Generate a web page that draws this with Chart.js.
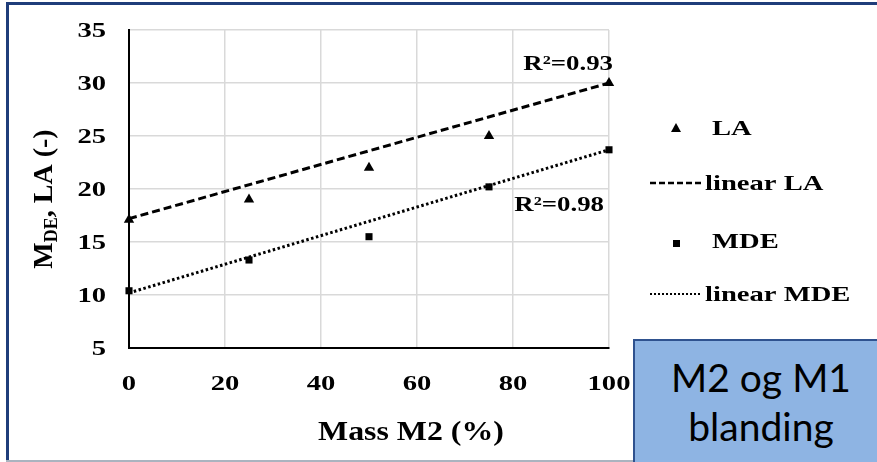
<!DOCTYPE html>
<html>
<head>
<meta charset="utf-8">
<script src="https://cdn.jsdelivr.net/npm/chart.js@4"></script>
<style>
  html, body { margin: 0; padding: 0; background: #fff; }
  #wrap { position: relative; width: 877px; height: 462px; overflow: hidden; }
  #frameTop { position: absolute; left: 6px; top: 2px; right: 0; height: 3px; background: #1f3d7a; }
  #frameLeft { position: absolute; left: 6px; top: 2px; width: 3px; bottom: 0; background: #1f3d7a; }
  #frameBottom { position: absolute; left: 6px; right: 0; bottom: 0; height: 2px; background: #aab3bf; }
  #box {
    position: absolute; left: 633px; top: 339px; width: 260px; height: 140px;
    background: #8eb4e3; border: 2px solid #2f528f; box-sizing: border-box;
  }
  #box div {
    position: absolute; left: 0; width: 252px; text-align: center;
    font-family: Lato, "Open Sans", sans-serif; font-size: 39px; color: #000;
  }
</style>
</head>
<body>
<div id="wrap">
  <canvas id="grafico" width="877" height="462"></canvas>
  <div id="frameTop"></div>
  <div id="frameLeft"></div>
  <div id="frameBottom"></div>
  <div id="box"><div style="top:13px">M2 og M1</div><div style="top:62px">blanding</div></div>
</div>
<script>
// dados
const massa = [0, 25, 50, 75, 100];
const valoresLA = [17.1, 19.0, 22.0, 25.0, 30.0];
const valoresMDE = [10.4, 13.3, 15.5, 20.2, 23.7];
const tendX = [0, 100];
const tendLA = [17.2, 30.0];
const tendMDE = [10.2, 23.7];
const ticksX = [0, 20, 40, 60, 80, 100];
const ticksY = [5, 10, 15, 20, 25, 30, 35];
const r2LA = "R\u00b2=0.93";
const r2MDE = "R\u00b2=0.98";

function pontos(xs, ys) {
    return xs.map((x, i) => ({ x: x, y: ys[i] }));
}

const serif = "'Liberation Serif', 'Times New Roman', serif";

// texto esticado na horizontal (a figura original está esticada)
function texto(ctx, s, x, y, sx, align) {
    ctx.save();
    ctx.translate(x, y);
    ctx.scale(sx, 1);
    ctx.textAlign = align || 'left';
    ctx.fillText(s, 0, 0);
    ctx.restore();
}

const textos = {
    id: 'textos',
    afterDraw(chart) {
        const ctx = chart.ctx;
        const x = chart.scales.x;
        const y = chart.scales.y;
        ctx.save();
        ctx.fillStyle = '#000';
        ctx.textBaseline = 'middle';

        // tick labels
        ctx.font = "bold 22px " + serif;
        ticksY.forEach(v => texto(ctx, String(v), 106, y.getPixelForValue(v) + 1, 1.3, 'right'));
        ticksX.forEach(v => texto(ctx, String(v), x.getPixelForValue(v), 384, 1.3, 'center'));

        // R2 labels
        ctx.font = "bold 22px " + serif;
        texto(ctx, r2LA, 613, 64, 1.22, 'right');
        texto(ctx, r2MDE, 604, 205, 1.22, 'right');

        // x title
        ctx.font = "bold 27px " + serif;
        texto(ctx, "Mass M2 (%)", 411, 433, 1.18, 'center');

        // y title (rotated, with subscript)
        ctx.translate(45, 199);
        ctx.rotate(-Math.PI / 2);
        ctx.textAlign = 'left';
        const big = "bold 28px " + serif;
        const small = "bold 18px " + serif;
        ctx.font = big;
        const wM = ctx.measureText("M").width;
        ctx.font = small;
        const wDE = ctx.measureText("DE").width;
        ctx.font = big;
        const wResto = ctx.measureText(", LA (-)").width;
        let px = -(wM + wDE + wResto) / 2;
        ctx.fillText("M", px, 0);
        px += wM;
        ctx.font = small;
        ctx.fillText("DE", px, 7);
        px += wDE;
        ctx.font = big;
        ctx.fillText(", LA (-)", px, 0);
        ctx.restore();

        // legend
        ctx.save();
        ctx.fillStyle = '#000';
        ctx.strokeStyle = '#000';
        ctx.font = "bold 22px " + serif;
        ctx.textBaseline = 'middle';
        // LA
        ctx.beginPath();
        ctx.moveTo(676, 123); ctx.lineTo(681, 132); ctx.lineTo(671, 132); ctx.closePath();
        ctx.fill();
        texto(ctx, "LA", 712, 129, 1.3);
        // linear LA
        ctx.lineWidth = 2.5;
        ctx.setLineDash([6, 3]);
        ctx.beginPath(); ctx.moveTo(650, 183); ctx.lineTo(702, 183); ctx.stroke();
        texto(ctx, "linear LA", 705, 184, 1.3);
        // MDE
        ctx.setLineDash([]);
        ctx.fillRect(673, 240, 7, 7);
        texto(ctx, "MDE", 712, 242, 1.3);
        // linear MDE
        ctx.lineWidth = 2;
        ctx.setLineDash([2, 2]);
        ctx.beginPath(); ctx.moveTo(650, 294); ctx.lineTo(702, 294); ctx.stroke();
        texto(ctx, "linear MDE", 705, 295, 1.3);
        ctx.restore();
    }
};

const ctx = document.getElementById('grafico').getContext('2d');

new Chart(ctx, {
    type: 'scatter',
    data: {
        datasets: [
            {
                label: 'linear LA',
                data: pontos(tendX, tendLA),
                showLine: true,
                borderColor: '#000',
                borderWidth: 3,
                borderDash: [8, 4],
                pointRadius: 0,
                clip: false,
                order: 2
            },
            {
                label: 'linear MDE',
                data: pontos(tendX, tendMDE),
                showLine: true,
                borderColor: '#000',
                borderWidth: 3,
                borderDash: [2.5, 2.5],
                pointRadius: 0,
                clip: false,
                order: 2
            },
            {
                label: 'LA',
                data: pontos(massa, valoresLA),
                pointStyle: 'triangle',
                pointRadius: 6,
                backgroundColor: '#000',
                borderColor: '#000',
                borderWidth: 0,
                clip: false,
                order: 1
            },
            {
                label: 'MDE',
                data: pontos(massa, valoresMDE),
                pointStyle: 'rect',
                pointRadius: 5,
                backgroundColor: '#000',
                borderColor: '#000',
                borderWidth: 0,
                clip: false,
                order: 1
            }
        ]
    },
    options: {
        responsive: false,
        animation: false,
        layout: { padding: { left: 0, right: 268, top: 30, bottom: 0 } },
        plugins: {
            legend: { display: false },
            tooltip: { enabled: false }
        },
        scales: {
            x: {
                type: 'linear',
                min: 0,
                max: 100,
                afterBuildTicks(scale) { scale.ticks = ticksX.map(v => ({ value: v })); },
                afterFit(scale) { scale.height = 114; },
                grid: { color: '#d9d9d9', lineWidth: 1.5, drawTicks: false },
                border: { color: '#000', width: 2 },
                ticks: { display: false }
            },
            y: {
                min: 5,
                max: 35,
                afterBuildTicks(scale) { scale.ticks = ticksY.map(v => ({ value: v })); },
                afterFit(scale) { scale.width = 129; },
                grid: { color: '#d9d9d9', lineWidth: 1.5, drawTicks: false },
                border: { color: '#000', width: 2 },
                ticks: { display: false }
            }
        }
    },
    plugins: [textos]
});
</script>
</body>
</html>
